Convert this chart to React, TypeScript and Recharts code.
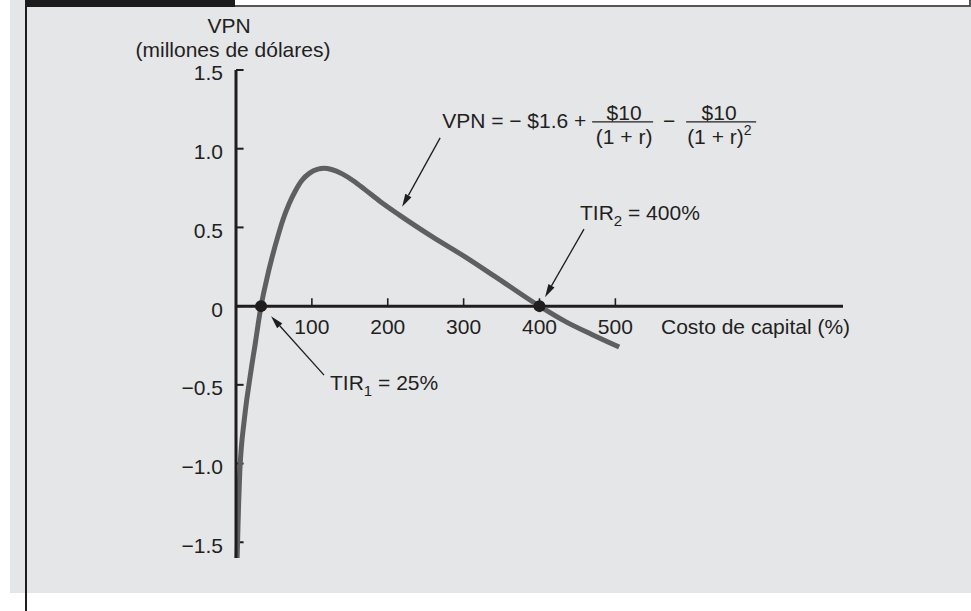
import React from "react";
import { LineChart, Line, XAxis, YAxis, ReferenceLine, ReferenceDot } from "recharts";

// cost of capital (%) and NPV (millions of dollars)
const costOfCapital = [1.5, 2.5, 3.5, 5, 7, 10.5, 14, 17, 21, 25, 29, 33, 40, 47, 55, 62, 70, 78, 87, 97, 108, 116, 126, 140, 155, 170, 190, 215, 259, 303, 347, 400, 435, 469, 505];
const npv = [-1.6, -1.42, -1.25, -1.05, -0.9, -0.74, -0.6, -0.5, -0.37, -0.25, -0.12, 0, 0.16, 0.3, 0.44, 0.55, 0.65, 0.73, 0.8, 0.845, 0.87, 0.876, 0.868, 0.84, 0.795, 0.74, 0.665, 0.58, 0.44, 0.31, 0.17, 0, -0.1, -0.18, -0.26];

const xTicks = [100, 200, 300, 400, 500];
const yTicks = [-1.5, -1.0, -0.5, 0, 0.5, 1.0, 1.5];
const irrPoints = [33, 400];

const data = costOfCapital.map((r, i) => ({ r, v: npv[i] }));

const FONT = '"Liberation Sans", Arial, Helvetica, sans-serif';
const INK = "#1f1d1e";
const TEXT = "#231f20";

const fmtY = (v: number) => (v === 0 ? "0" : (v < 0 ? "\u2212" : "") + Math.abs(v).toFixed(1));

function Arrow({ x1, y1, x2, y2 }: { x1: number; y1: number; x2: number; y2: number }) {
  // line from (x1,y1) to tip (x2,y2) with filled head
  const dx = x2 - x1;
  const dy = y2 - y1;
  const len = Math.sqrt(dx * dx + dy * dy);
  const ux = dx / len;
  const uy = dy / len;
  const hl = 13;
  const hw = 3.5;
  const bx = x2 - ux * hl;
  const by = y2 - uy * hl;
  return (
    <g>
      <line x1={x1} y1={y1} x2={bx} y2={by} stroke={INK} strokeWidth={1.3} />
      <polygon
        points={`${x2},${y2} ${bx - uy * hw},${by + ux * hw} ${bx + uy * hw},${by - ux * hw}`}
        fill={INK}
      />
    </g>
  );
}

const txt = { fontFamily: FONT, fontSize: 21, fill: TEXT } as const;

function YTick(props: any) {
  const { x, y, payload } = props;
  return (
    <text x={x} y={y + 3} dy="0.355em" textAnchor="end" {...txt}>
      {fmtY(payload.value)}
    </text>
  );
}

export default function App() {
  return (
    <div style={{ position: "absolute", left: 0, top: 0, width: 971, height: 611, background: "#fff", overflow: "hidden" }}>
      <div style={{ position: "absolute", left: 10, top: 0, width: 961, height: 593, background: "#e5e6e8" }} />
      <div style={{ position: "absolute", left: 25, top: 0, width: 2, height: 611, background: INK }} />
      <div style={{ position: "absolute", left: 26, top: 0, width: 209, height: 7, background: "#1c1c1c" }} />
      <div
        style={{
          position: "absolute",
          left: 235,
          top: 0,
          width: 734,
          height: 5,
          background: "#fff",
          borderRight: "2px solid #555",
          borderBottom: "2px solid #555",
        }}
      />

      <div style={{ position: "absolute", left: 0, top: 0 }}>
        <LineChart width={971} height={611} data={data} margin={{ top: 70, right: 128, bottom: 53, left: 0 }}>
          <XAxis dataKey="r" type="number" domain={[0, 800]} hide />
          <YAxis
            type="number"
            domain={[-1.6, 1.5]}
            ticks={yTicks}
            interval={0}
            width={236}
            axisLine={{ stroke: INK, strokeWidth: 3 }}
            tickLine={false}
            tickSize={0}
            tickMargin={13}
            tick={<YTick />}
          />
          <ReferenceLine y={0} stroke={INK} strokeWidth={3} />
          {yTicks.map((t) => (
            <ReferenceLine
              key={"yt" + t}
              segment={[{ x: 0, y: t }, { x: 10, y: t }]}
              stroke={INK}
              strokeWidth={2}
            />
          ))}
          {xTicks.map((t) => (
            <ReferenceLine
              key={"xt" + t}
              segment={[{ x: t, y: 0 }, { x: t, y: 0.05 }]}
              stroke={INK}
              strokeWidth={1.6}
            />
          ))}
          {xTicks.map((t) => (
            <ReferenceDot
              key={"xl" + t}
              x={t}
              y={0}
              r={0}
              shape={(p: any) => (
                <text x={p.cx} y={p.cy + 27.5} textAnchor="middle" {...txt}>
                  {t}
                </text>
              )}
            />
          ))}
          <Line
            type="monotone"
            dataKey="v"
            stroke="#5e5f61"
            strokeWidth={5}
            dot={false}
            isAnimationActive={false}
          />
          {/* formula annotation, anchored on the curve */}
          <ReferenceDot
            x={215}
            y={0.58}
            r={0}
            shape={(p: any) => {
              const cx = p.cx;
              const cy = p.cy;
              return (
                <g>
                  <Arrow x1={cx + 41} y1={cy - 77} x2={cx + 3} y2={cy - 8} />
                  <text x={cx + 43} y={cy - 87} {...txt}>
                    {"VPN = \u2212 $1.6 +"}
                  </text>
                  <text x={cx + 225} y={cy - 95} textAnchor="middle" {...txt}>
                    $10
                  </text>
                  <line x1={cx + 193} x2={cx + 254} y1={cy - 93} y2={cy - 93} stroke={TEXT} strokeWidth={1.3} />
                  <text x={cx + 225} y={cy - 71} textAnchor="middle" {...txt}>
                    (1 + r)
                  </text>
                  <text x={cx + 270} y={cy - 87} textAnchor="middle" {...txt}>
                    {"\u2212"}
                  </text>
                  <text x={cx + 320} y={cy - 95} textAnchor="middle" {...txt}>
                    $10
                  </text>
                  <line x1={cx + 287} x2={cx + 357} y1={cy - 93} y2={cy - 93} stroke={TEXT} strokeWidth={1.3} />
                  <text x={cx + 288} y={cy - 71} {...txt}>
                    (1 + r)
                    <tspan fontSize={14} dy={-9}>
                      2
                    </tspan>
                  </text>
                </g>
              );
            }}
          />
          {/* IRR markers */}
          <ReferenceDot
            x={irrPoints[0]}
            y={0}
            r={6}
            shape={(p: any) => (
              <g>
                <circle cx={p.cx} cy={p.cy} r={6} fill={INK} />
                <Arrow x1={p.cx + 63} y1={p.cy + 69} x2={p.cx + 10} y2={p.cy + 10} />
                <text x={p.cx + 69} y={p.cy + 84} {...txt}>
                  TIR
                  <tspan fontSize={15} dy={6}>
                    1
                  </tspan>
                  <tspan dy={-6}>{" = 25%"}</tspan>
                </text>
              </g>
            )}
          />
          <ReferenceDot
            x={irrPoints[1]}
            y={0}
            r={6}
            shape={(p: any) => (
              <g>
                <circle cx={p.cx} cy={p.cy} r={6} fill={INK} />
                <Arrow x1={p.cx + 44.5} y1={p.cy - 77} x2={p.cx + 5.5} y2={p.cy - 9} />
                <text x={p.cx + 40.5} y={p.cy - 86.5} {...txt}>
                  TIR
                  <tspan fontSize={15} dy={6}>
                    2
                  </tspan>
                  <tspan dy={-6}>{" = 400%"}</tspan>
                </text>
              </g>
            )}
          />
        </LineChart>
      </div>

      <svg width={971} height={611} style={{ position: "absolute", left: 0, top: 0, pointerEvents: "none" }}>
        <text x={229} y={33} textAnchor="middle" {...txt}>
          VPN
        </text>
        <text x={233} y={56.5} textAnchor="middle" {...txt}>
          (millones de dólares)
        </text>
        <text x={661} y={333.5} {...txt}>
          Costo de capital (%)
        </text>
      </svg>
    </div>
  );
}
